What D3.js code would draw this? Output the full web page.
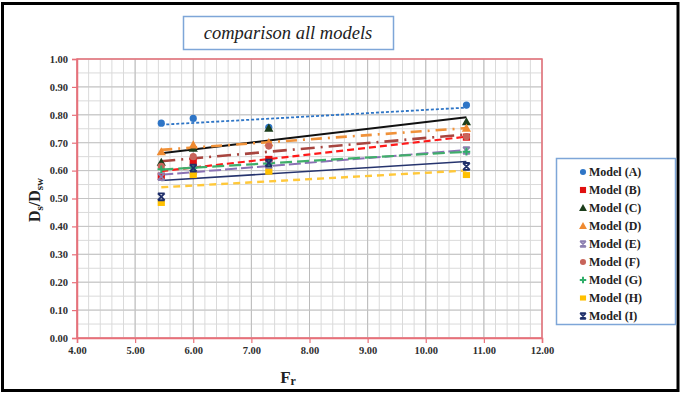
<!DOCTYPE html>
<html>
<head>
<meta charset="utf-8">
<script src="https://cdn.jsdelivr.net/npm/d3@7"></script>
<style>
  html, body { margin: 0; padding: 0; background: #fff; }
  svg { display: block; }
</style>
</head>
<body>
<svg id="chart" width="681" height="394"></svg>
<script>
// Froude numbers tested
const fr = [5.45, 6.0, 7.3, 10.7];

// Ds/Dsw for each model at the tested Froude numbers
const modelA = [0.770, 0.787, 0.755, 0.835];
const modelB = [0.580, 0.632, 0.640, 0.720];
const modelC = [0.630, 0.680, 0.752, 0.775];
const modelD = [0.667, 0.692, 0.700, 0.752];
const modelE = [0.578, 0.600, 0.620, 0.672];
const modelF = [0.615, 0.650, 0.688, 0.722];
const modelG = [0.605, 0.610, 0.625, 0.668];
const modelH = [0.484, 0.584, 0.596, 0.584];
const modelI = [0.506, 0.609, 0.627, 0.615];

const seriesNames = ["Model (A)", "Model (B)", "Model (C)", "Model (D)", "Model (E)",
                     "Model (F)", "Model (G)", "Model (H)", "Model (I)"];
const seriesValues = [modelA, modelB, modelC, modelD, modelE, modelF, modelG, modelH, modelI];

const xTicks = [4, 5, 6, 7, 8, 9, 10, 11, 12];
const yTicks = [0, 0.1, 0.2, 0.3, 0.4, 0.5, 0.6, 0.7, 0.8, 0.9, 1.0];

// marker + trendline styling per model
const styles = [
  { color: "#2e75c6", marker: "circle",   dash: "3,2",          width: 1.8, mcolor: "#2e75c6" },
  { color: "#ff1a1a", marker: "square",   dash: "7,4",          width: 2.2, mcolor: "#e01010" },
  { color: "#111111", marker: "triangle", dash: null,           width: 2.0, mcolor: "#1b3d1b" },
  { color: "#f0923a", marker: "triangle", dash: "11,6,2,6",     width: 2.6, mcolor: "#ef8a30" },
  { color: "#8a72b4", marker: "x",        dash: "12,4",         width: 2.0, mcolor: "#8c7fb0" },
  { color: "#a8453f", marker: "circle",   dash: "14,6,2,6",     width: 2.6, mcolor: "#c8645a" },
  { color: "#3fae6a", marker: "plus",     dash: "12,5",         width: 2.2, mcolor: "#2fae6a" },
  { color: "#ffc83a", marker: "rect",     dash: "7,5",          width: 2.4, mcolor: "#ffc000" },
  { color: "#26346e", marker: "x",        dash: null,           width: 1.6, mcolor: "#1f2f6a" }
];

const svg = d3.select("#chart");
const W = 681, H = 394;

// outer frame
svg.append("rect").attr("x", 2.5).attr("y", 3.5).attr("width", W - 5.5).attr("height", H - 7)
  .attr("fill", "#fff").attr("stroke", "#000").attr("stroke-width", 3);

const plot = { left: 77, right: 542, top: 59, bottom: 338 };
const x = d3.scaleLinear().domain([4, 12]).range([plot.left, plot.right]);
const y = d3.scaleLinear().domain([0, 1]).range([plot.bottom, plot.top]);

// grid: minor then major
const g = svg.append("g");
const minorX = d3.range(4, 12.0001, 0.2);
const minorY = d3.range(0, 1.0001, 0.05);
g.selectAll(".mx").data(minorX).join("line")
  .attr("x1", d => x(d)).attr("x2", d => x(d)).attr("y1", plot.top).attr("y2", plot.bottom)
  .attr("stroke", "#dadada").attr("stroke-width", 1);
g.selectAll(".my").data(minorY).join("line")
  .attr("x1", plot.left).attr("x2", plot.right).attr("y1", d => y(d)).attr("y2", d => y(d))
  .attr("stroke", "#dadada").attr("stroke-width", 1);
g.selectAll(".Mx").data(xTicks).join("line")
  .attr("x1", d => x(d)).attr("x2", d => x(d)).attr("y1", plot.top).attr("y2", plot.bottom)
  .attr("stroke", "#bcbcbc").attr("stroke-width", 1);
g.selectAll(".My").data(yTicks).join("line")
  .attr("x1", plot.left).attr("x2", plot.right).attr("y1", d => y(d)).attr("y2", d => y(d))
  .attr("stroke", "#c4c4c4").attr("stroke-width", 1);

// plot frame
svg.append("rect").attr("x", plot.left).attr("y", plot.top)
  .attr("width", plot.right - plot.left).attr("height", plot.bottom - plot.top)
  .attr("fill", "none").attr("stroke", "#e8707a").attr("stroke-width", 1.5);

// axes
const xAxis = svg.append("g").attr("transform", `translate(0,${plot.bottom})`)
  .call(d3.axisBottom(x).tickValues(xTicks).tickFormat(d3.format(".2f")).tickSize(5).tickPadding(4));
const yAxis = svg.append("g").attr("transform", `translate(${plot.left},0)`)
  .call(d3.axisLeft(y).tickValues(yTicks).tickFormat(d3.format(".2f")).tickSize(5).tickPadding(4));
[xAxis, yAxis].forEach(a => {
  a.select(".domain").attr("stroke", "#e8707a").attr("stroke-width", 1.5);
  a.selectAll(".tick line").attr("stroke", "#e8707a").attr("stroke-width", 1.2);
  a.selectAll("text").attr("font-family", "Liberation Serif, serif").attr("font-weight", "bold")
    .attr("font-size", 10.5).attr("fill", "#2e2e2e");
});

// linear least-squares trendline over the data range
function trend(xs, ys) {
  const mx = d3.mean(xs), my = d3.mean(ys);
  let sxy = 0, sxx = 0;
  xs.forEach((xi, i) => { sxy += (xi - mx) * (ys[i] - my); sxx += (xi - mx) ** 2; });
  const b = sxy / sxx, a = my - b * mx;
  const x0 = d3.min(xs), x1 = d3.max(xs);
  return [[x0, a + b * x0], [x1, a + b * x1]];
}

const lines = svg.append("g");
seriesValues.forEach((vals, i) => {
  const s = styles[i];
  const t = trend(fr, vals);
  lines.append("line")
    .attr("x1", x(t[0][0])).attr("y1", y(t[0][1]))
    .attr("x2", x(t[1][0])).attr("y2", y(t[1][1]))
    .attr("stroke", s.color).attr("stroke-width", s.width)
    .attr("stroke-dasharray", s.dash);
});

// marker shapes
function drawMarker(sel, type, color, cx, cy, scale = 1) {
  const k = scale;
  if (type === "circle") {
    sel.append("circle").attr("cx", cx).attr("cy", cy).attr("r", 3.6 * k).attr("fill", color);
  } else if (type === "square") {
    sel.append("rect").attr("x", cx - 3.6 * k).attr("y", cy - 3.6 * k)
      .attr("width", 7.2 * k).attr("height", 7.2 * k).attr("fill", color);
  } else if (type === "triangle") {
    const r = 4.6 * k;
    sel.append("path").attr("d", `M${cx},${cy - r}L${cx + r},${cy + r * 0.75}L${cx - r},${cy + r * 0.75}Z`)
      .attr("fill", color);
  } else if (type === "rect") {
    sel.append("rect").attr("x", cx - 3.6 * k).attr("y", cy - 3 * k)
      .attr("width", 7.2 * k).attr("height", 6 * k).attr("fill", color);
  } else if (type === "x") {
    const r = 3.4 * k;
    sel.append("path").attr("d", `M${cx - r},${cy - r}L${cx + r},${cy + r}M${cx + r},${cy - r}L${cx - r},${cy + r}M${cx - r},${cy - r}H${cx + r}M${cx - r},${cy + r}H${cx + r}`)
      .attr("stroke", color).attr("stroke-width", 1.8).attr("fill", "none");
  } else if (type === "plus") {
    const r = 3.8 * k;
    sel.append("path").attr("d", `M${cx - r},${cy}H${cx + r}M${cx},${cy - r}V${cy + r}`)
      .attr("stroke", color).attr("stroke-width", 2).attr("fill", "none");
  }
}

const markers = svg.append("g");
seriesValues.forEach((vals, i) => {
  vals.forEach((v, j) => drawMarker(markers, styles[i].marker, styles[i].mcolor, x(fr[j]), y(v)));
});

// title box
svg.append("rect").attr("x", 183.5).attr("y", 16.5).attr("width", 210).attr("height", 33)
  .attr("fill", "#fff").attr("stroke", "#7ea6d8").attr("stroke-width", 1.5);
svg.append("text").attr("x", 288).attr("y", 38.5).attr("text-anchor", "middle")
  .attr("font-family", "Liberation Serif, serif").attr("font-style", "italic")
  .attr("font-size", 18.5).attr("fill", "#222").text("comparison all models");

// axis titles
const xt = svg.append("text").attr("x", 288).attr("y", 383).attr("text-anchor", "middle")
  .attr("font-family", "Liberation Serif, serif").attr("font-weight", "bold")
  .attr("font-size", 17).attr("fill", "#222");
xt.append("tspan").text("F");
xt.append("tspan").attr("font-size", 12).attr("dy", 2).text("r");

const yt = svg.append("text").attr("transform", "translate(40,200) rotate(-90)")
  .attr("text-anchor", "middle")
  .attr("font-family", "Liberation Serif, serif").attr("font-weight", "bold")
  .attr("font-size", 16).attr("fill", "#222");
yt.append("tspan").text("D");
yt.append("tspan").attr("font-size", 11).attr("dy", 3).text("s");
yt.append("tspan").attr("dy", -3).text("/D");
yt.append("tspan").attr("font-size", 11).attr("dy", 3).text("sw");

// legend
const leg = svg.append("g");
leg.append("rect").attr("x", 556.5).attr("y", 158.5).attr("width", 119).attr("height", 166)
  .attr("fill", "#fff").attr("stroke", "#7ea6d8").attr("stroke-width", 1.5);
seriesNames.forEach((name, i) => {
  const ly = 172 + i * 18;
  drawMarker(leg, styles[i].marker, styles[i].mcolor, 583, ly, 0.85);
  leg.append("text").attr("x", 589).attr("y", ly + 4)
    .attr("font-family", "Liberation Serif, serif").attr("font-weight", "bold")
    .attr("font-size", 12).attr("fill", "#222").text(name);
});
</script>
</body>
</html>
